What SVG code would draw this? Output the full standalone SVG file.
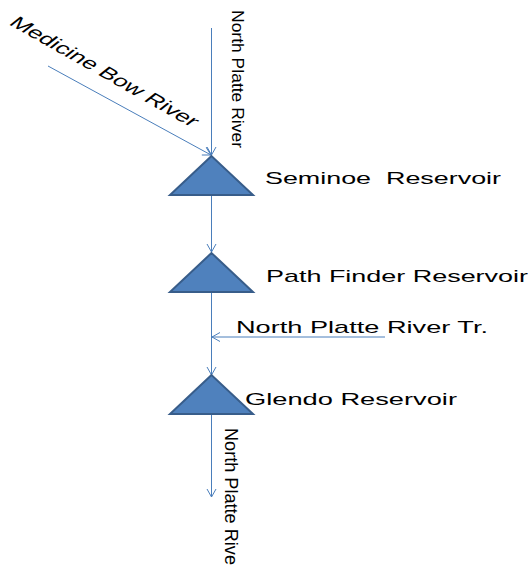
<svg xmlns="http://www.w3.org/2000/svg" width="531" height="566" viewBox="0 0 531 566">
<style>
.res{fill:#4F81BD;stroke:#385D8A;stroke-width:2;stroke-linejoin:miter}
.flow{stroke:#4A7EBB;stroke-width:1;fill:none}
.lbl{font-family:"Liberation Sans",Arial,sans-serif;font-size:17px;fill:#000}
</style>
<defs>
<marker id="arr" markerUnits="userSpaceOnUse" markerWidth="12" markerHeight="12" viewBox="-10 -6 12 12" refX="0" refY="0" orient="auto">
<path d="M-8,-4.5 L0,0 L-8,4.5" fill="none" stroke="#4A7EBB" stroke-width="1"/>
</marker>
</defs>
<rect width="531" height="566" fill="#fff"/>
<g id="connectors">
<line class="flow" x1="211.5" y1="28" x2="211.5" y2="155" marker-end="url(#arr)"/>
<line class="flow" x1="48" y1="66" x2="211" y2="155" marker-end="url(#arr)"/>
<line class="flow" x1="211.5" y1="195" x2="211.5" y2="252" marker-end="url(#arr)"/>
<line class="flow" x1="211.5" y1="292" x2="211.5" y2="375" marker-end="url(#arr)"/>
<line class="flow" x1="385" y1="337" x2="212" y2="337" marker-end="url(#arr)"/>
<line class="flow" x1="211.5" y1="414" x2="211.5" y2="497" marker-end="url(#arr)"/>
</g>
<g id="seminoe">
<polygon class="res" points="211.5,156 170,195 253,195"/>
<text class="lbl" x="265" y="184" textLength="236" lengthAdjust="spacingAndGlyphs" xml:space="preserve">Seminoe  Reservoir</text>
</g>
<g id="pathfinder">
<polygon class="res" points="211.5,253 170,292 253,292"/>
<text class="lbl" x="266" y="282" textLength="262" lengthAdjust="spacingAndGlyphs">Path Finder Reservoir</text>
</g>
<g id="glendo">
<polygon class="res" points="211.5,375 170,414 253,414"/>
<text class="lbl" x="245" y="405" textLength="212" lengthAdjust="spacingAndGlyphs">Glendo Reservoir</text>
</g>
<g id="labels">
<text class="lbl" style="font-size:17px" transform="translate(232,10) rotate(90)" textLength="138" lengthAdjust="spacingAndGlyphs">North Platte River</text>
<text class="lbl" style="font-size:16px" transform="translate(8,24) scale(1.5,1) rotate(40.3)" textLength="160" lengthAdjust="spacingAndGlyphs">Medicine Bow River</text>
<text class="lbl" x="236" y="333" textLength="252" lengthAdjust="spacingAndGlyphs">North Platte River Tr.</text>
<text class="lbl" style="font-size:18px" transform="translate(225,428) rotate(90)" textLength="143" lengthAdjust="spacingAndGlyphs">North Platte River</text>
</g>
</svg>
